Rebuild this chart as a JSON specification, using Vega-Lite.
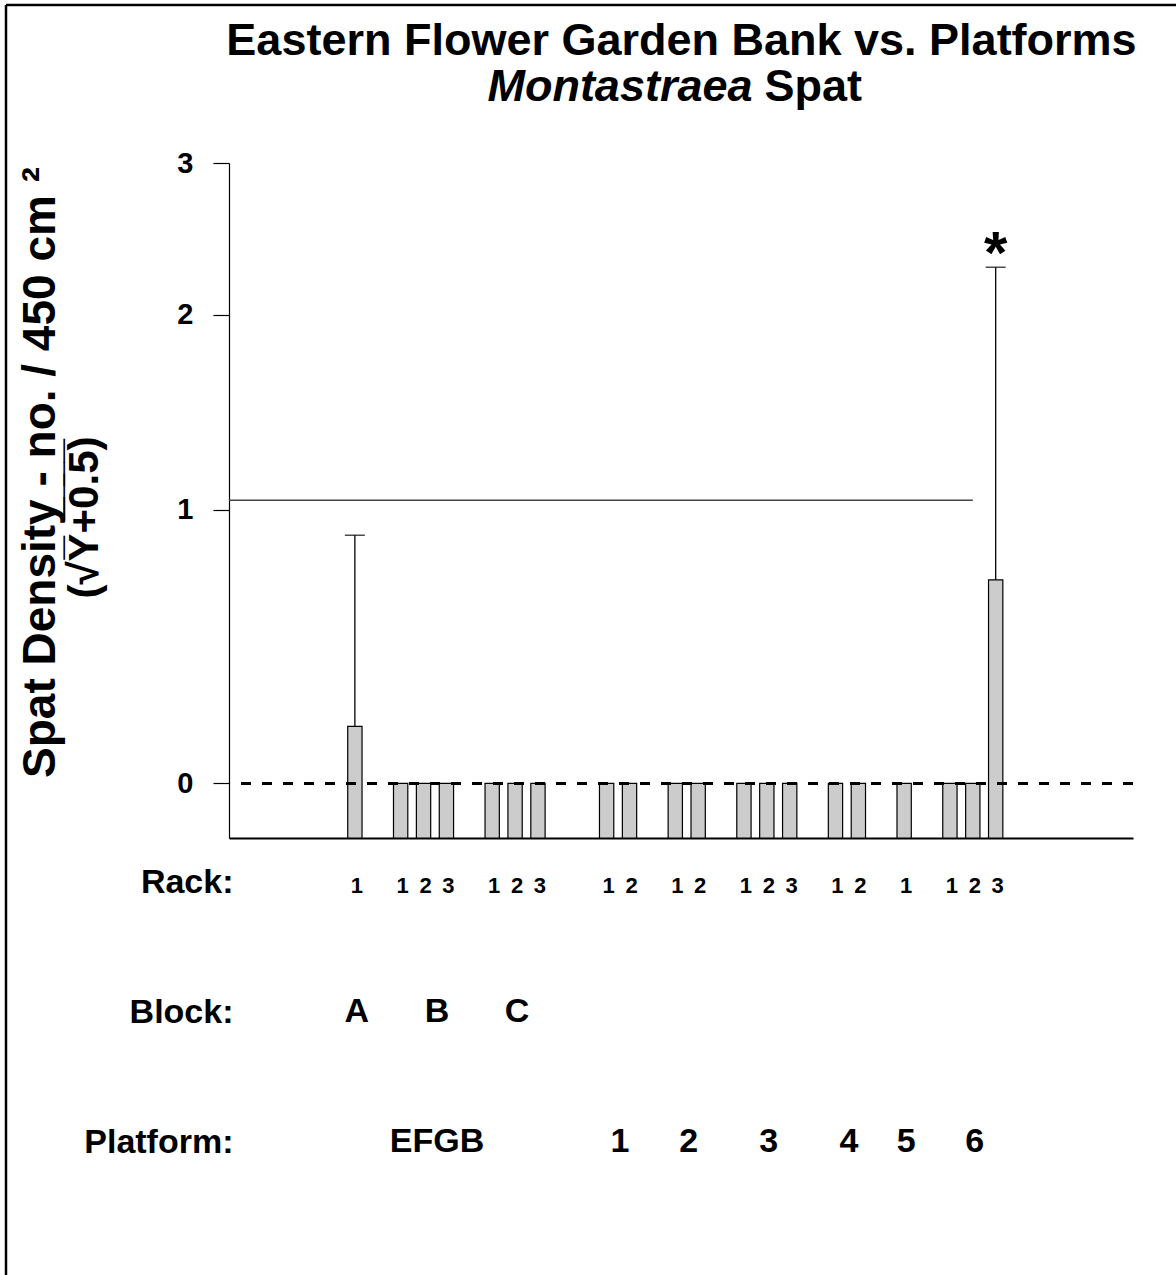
{
  "$schema": "https://vega.github.io/schema/vega-lite/v6.json",
  "width": 904,
  "height": 675,
  "autosize": {"type": "none"},
  "padding": {"left": 229, "top": 163, "right": 43, "bottom": 437},
  "background": "white",
  "config": {
    "font": "Liberation Sans",
    "view": {"stroke": null},
    "axis": {"grid": false, "labelColor": "black", "titleColor": "black", "domainColor": "black", "tickColor": "black", "titleLimit": 2000, "labelLimit": 400}
  },
  "datasets": {
    "bars": [
      {"id": "A-1", "site": "EFGB", "block": "A", "rack": "1", "mean": 0.177, "upper": 0.89},
      {"id": "B-1", "site": "EFGB", "block": "B", "rack": "1", "mean": 0},
      {"id": "B-2", "site": "EFGB", "block": "B", "rack": "2", "mean": 0},
      {"id": "B-3", "site": "EFGB", "block": "B", "rack": "3", "mean": 0},
      {"id": "C-1", "site": "EFGB", "block": "C", "rack": "1", "mean": 0},
      {"id": "C-2", "site": "EFGB", "block": "C", "rack": "2", "mean": 0},
      {"id": "C-3", "site": "EFGB", "block": "C", "rack": "3", "mean": 0},
      {"id": "P1-1", "site": "1", "rack": "1", "mean": 0},
      {"id": "P1-2", "site": "1", "rack": "2", "mean": 0},
      {"id": "P2-1", "site": "2", "rack": "1", "mean": 0},
      {"id": "P2-2", "site": "2", "rack": "2", "mean": 0},
      {"id": "P3-1", "site": "3", "rack": "1", "mean": 0},
      {"id": "P3-2", "site": "3", "rack": "2", "mean": 0},
      {"id": "P3-3", "site": "3", "rack": "3", "mean": 0},
      {"id": "P4-1", "site": "4", "rack": "1", "mean": 0},
      {"id": "P4-2", "site": "4", "rack": "2", "mean": 0},
      {"id": "P5-1", "site": "5", "rack": "1", "mean": 0},
      {"id": "P6-1", "site": "6", "rack": "1", "mean": 0},
      {"id": "P6-2", "site": "6", "rack": "2", "mean": 0},
      {"id": "P6-3", "site": "6", "rack": "3", "mean": 0.705, "upper": 2.29, "sig": "*"}
    ],
    "reference": [
      {"level": 1.043}
    ],
    "labels": [
      {"row": "Block:", "label": "A", "at": "A-1", "between": false},
      {"row": "Block:", "label": "B", "at": "B-2", "between": true},
      {"row": "Block:", "label": "C", "at": "C-2", "between": false},
      {"row": "Platform:", "label": "EFGB", "at": "B-2", "between": true},
      {"row": "Platform:", "label": "1", "at": "P1-1", "between": true},
      {"row": "Platform:", "label": "2", "at": "P2-1", "between": true},
      {"row": "Platform:", "label": "3", "at": "P3-2", "between": false},
      {"row": "Platform:", "label": "4", "at": "P4-1", "between": true},
      {"row": "Platform:", "label": "5", "at": "P5-1", "between": false},
      {"row": "Platform:", "label": "6", "at": "P6-2", "between": false}
    ]
  },
  "layer": [
    {
      "data": {"values": [{"frame": "page"}]},
      "layer": [
        {
          "mark": {"type": "rule", "color": "black", "strokeWidth": 2.5},
          "encoding": {
            "x": {
              "datum": 0, "type": "quantitative",
              "scale": {"domain": [0, 1], "range": [-223, 947], "nice": false, "zero": false},
              "axis": {
                "orient": "top", "domain": false, "ticks": false, "labels": false,
                "title": "Eastern Flower Garden Bank vs. Platforms",
                "titleX": 452, "titleY": -109, "titleAlign": "center", "titleBaseline": "alphabetic",
                "titleFontSize": 45, "titleFontWeight": "bold"
              }
            },
            "x2": {"datum": 1},
            "y": {
              "datum": 1, "type": "quantitative",
              "scale": {"domain": [0, 1], "range": [1112, -158], "nice": false, "zero": false},
              "axis": {
                "orient": "right", "domain": false, "ticks": false, "labels": false,
                "title": "Montastraea",
                "titleAngle": 0, "titleX": -381, "titleY": -63, "titleAlign": "right", "titleBaseline": "alphabetic",
                "titleFontSize": 45, "titleFontWeight": "bold", "titleFontStyle": "italic"
              }
            }
          }
        },
        {
          "mark": {"type": "rule", "color": "black", "strokeWidth": 2.5},
          "encoding": {
            "x": {
              "datum": 0, "type": "quantitative",
              "axis": {
                "orient": "top", "domain": false, "ticks": false, "labels": false,
                "title": "Spat",
                "titleX": 535, "titleY": -63, "titleAlign": "left", "titleBaseline": "alphabetic",
                "titleFontSize": 45, "titleFontWeight": "bold"
              }
            },
            "y": {"datum": 0, "type": "quantitative"},
            "y2": {"datum": 1}
          }
        }
      ],
      "resolve": {"axis": {"x": "independent"}}
    },
    {
      "layer": [
        {
          "data": {"name": "bars"},
          "layer": [
            {
              "mark": {"type": "bar", "fill": "#cccccc", "stroke": "black", "strokeWidth": 1.2, "width": {"band": 0.625}},
              "encoding": {
                "x": {
                  "field": "id", "type": "nominal",
                  "scale": {
                    "domain": ["gap1", "gap2", "gap3", "gap4", "gap5", "A-1", "gap6", "B-1", "B-2", "B-3", "gap7", "C-1", "C-2", "C-3", "gap8", "gap9", "P1-1", "P1-2", "gap10", "P2-1", "P2-2", "gap11", "P3-1", "P3-2", "P3-3", "gap12", "P4-1", "P4-2", "gap13", "P5-1", "gap14", "P6-1", "P6-2", "P6-3", "gap15", "gap16", "gap17", "gap18", "gap19"],
                    "paddingInner": 0, "paddingOuter": 0.25, "align": 0
                  },
                  "axis": {
                    "orient": "bottom", "title": null, "domainWidth": 1.8, "ticks": false, "tickSize": 0,
                    "labelPadding": 54, "labelBaseline": "alphabetic", "labelAngle": 0, "labelOffset": 2,
                    "labelFontSize": 22, "labelFontWeight": "bold",
                    "labelExpr": "indexof(datum.value, 'gap') === 0 ? '' : slice(datum.value, -1)"
                  }
                },
                "y": {
                  "field": "mean", "type": "quantitative",
                  "scale": {"type": "symlog", "constant": 2.05, "domain": [-0.1697, 3], "nice": false, "zero": false},
                  "axis": {
                    "orient": "left", "values": [0, 1, 2, 3], "format": "d", "domainWidth": 1.2, "tickWidth": 1.2, "tickSize": 16,
                    "labelPadding": 20, "labelFontSize": 29, "labelFontWeight": "bold", "labelFlush": false,
                    "title": "Spat Density - no. / 450 cm ²",
                    "titleX": -175, "titleY": 309, "titleAngle": -90, "titleAlign": "center", "titleBaseline": "alphabetic",
                    "titleFontSize": 46, "titleFontWeight": "bold"
                  }
                },
                "y2": {"datum": -0.1697}
              }
            },
            {
              "transform": [{"filter": "isValid(datum.upper)"}],
              "mark": {"type": "rule", "color": "black", "strokeWidth": 1.3},
              "encoding": {
                "x": {"field": "id", "type": "nominal"},
                "y": {"field": "mean", "type": "quantitative"},
                "y2": {"field": "upper"}
              }
            },
            {
              "transform": [{"filter": "isValid(datum.upper)"}],
              "mark": {"type": "tick", "color": "black", "thickness": 1.5, "size": 20},
              "encoding": {
                "x": {"field": "id", "type": "nominal"},
                "y": {"field": "upper", "type": "quantitative"}
              }
            },
            {
              "transform": [{"filter": "isValid(datum.sig)"}],
              "mark": {"type": "text", "color": "black", "fontSize": 60, "fontWeight": "bold", "baseline": "alphabetic", "dy": 6},
              "encoding": {
                "x": {"field": "id", "type": "nominal"},
                "y": {"field": "upper", "type": "quantitative"},
                "text": {"field": "sig"}
              }
            },
            {
              "mark": {"type": "rule", "color": "black", "strokeWidth": 2.5, "strokeDash": [10, 11]},
              "encoding": {"y": {"datum": 0, "type": "quantitative"}}
            },
            {
              "data": {"name": "reference"},
              "mark": {"type": "rule", "color": "#444444", "strokeWidth": 1.5},
              "encoding": {
                "x": {"datum": "gap1", "type": "nominal", "bandPosition": 0},
                "x2": {"datum": "P6-2"},
                "y": {"field": "level", "type": "quantitative"}
              }
            }
          ]
        },
        {
          "data": {"name": "labels"},
          "layer": [
            {
              "transform": [{"filter": "datum.between"}],
              "mark": {"type": "text", "color": "black", "fontSize": 34, "fontWeight": "bold", "baseline": "alphabetic", "dx": 2},
              "encoding": {
                "x": {"field": "at", "type": "nominal", "bandPosition": 1},
                "y": {
                  "field": "row", "type": "nominal",
                  "scale": {"type": "point", "domain": ["Rack:", "Block:", "Platform:"], "range": [729, 989], "padding": 0},
                  "axis": {
                    "orient": "left", "offset": -4, "domain": false, "ticks": false, "tickSize": 0, "labelPadding": 0,
                    "labelFontSize": 34, "labelFontWeight": "bold", "labelBaseline": "alphabetic", "labelAlign": "right",
                    "title": "(√Y\u0305+\u0305\u03050\u0305.\u03055\u0305)",
                    "titleX": -136, "titleY": 354, "titleAngle": -90, "titleAlign": "center", "titleBaseline": "alphabetic",
                    "titleFontSize": 42, "titleFontWeight": "bold"
                  }
                },
                "text": {"field": "label"}
              }
            },
            {
              "transform": [{"filter": "!datum.between"}],
              "mark": {"type": "text", "color": "black", "fontSize": 34, "fontWeight": "bold", "baseline": "alphabetic", "dx": 2},
              "encoding": {
                "x": {"field": "at", "type": "nominal", "bandPosition": 0.5},
                "y": {
                  "field": "row", "type": "nominal",
                  "scale": {"type": "point", "domain": ["Rack:", "Block:", "Platform:"], "range": [729, 989], "padding": 0}
                },
                "text": {"field": "label"}
              }
            }
          ]
        }
      ],
      "resolve": {"scale": {"y": "independent"}}
    }
  ],
  "resolve": {"scale": {"x": "independent", "y": "independent"}}
}
